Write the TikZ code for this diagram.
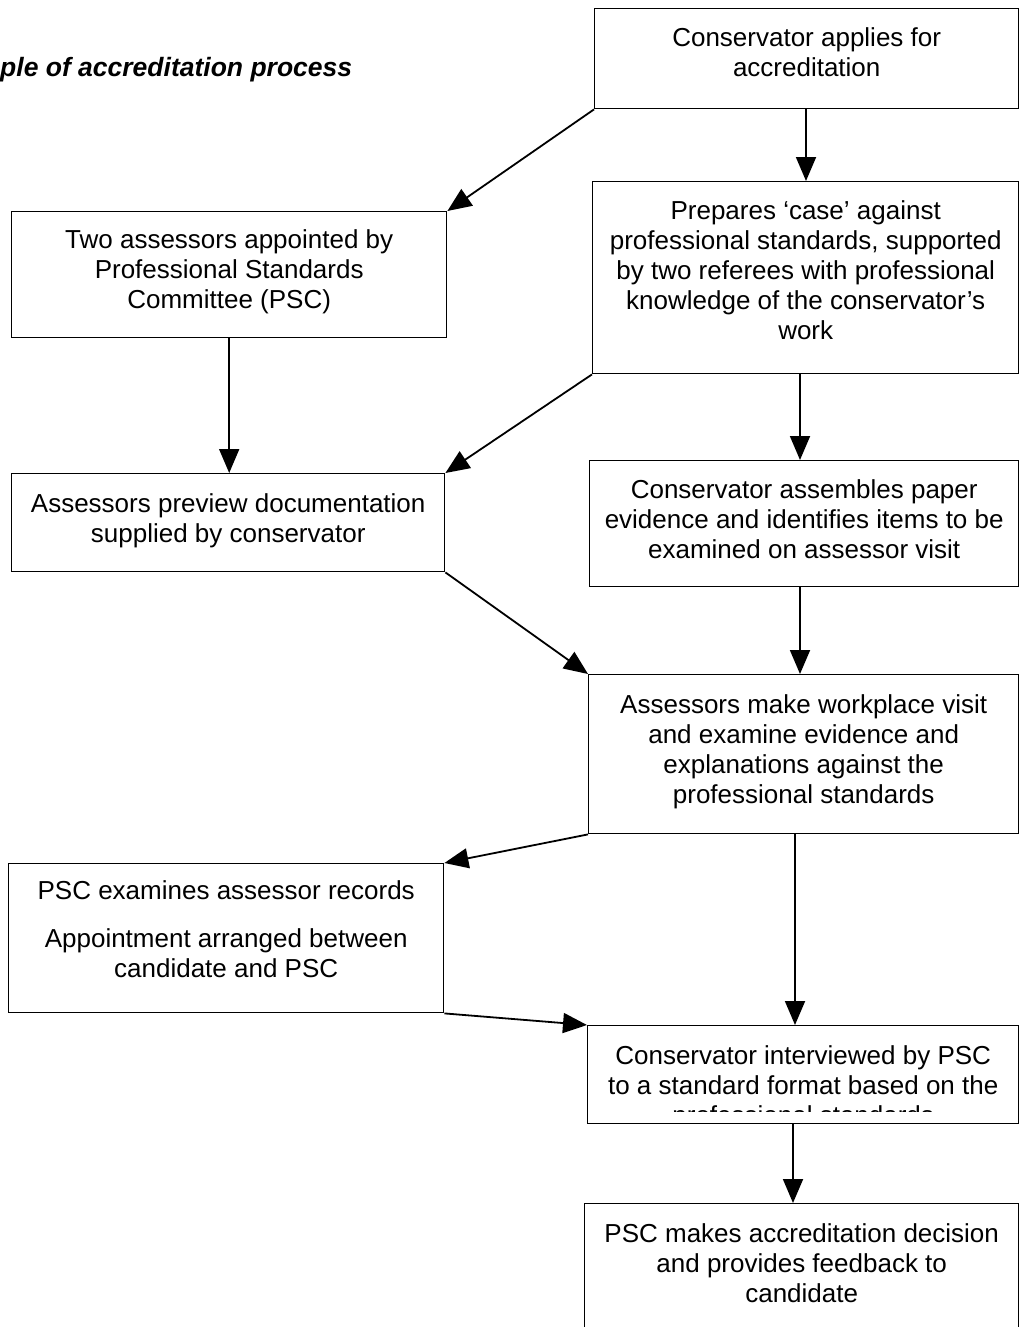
\documentclass[tikz,border=0pt]{standalone}
\usepackage{fontspec}
\setmainfont{Liberation Sans}
\usetikzlibrary{arrows.meta}

\begin{document}
\begin{tikzpicture}[x=1pt,y=-1pt,
  box/.style={draw, line width=1.4pt, inner sep=0pt, anchor=north west},
  txt/.style={anchor=north, inner sep=0pt, align=center,
              font=\fontsize{26}{30}\selectfont},
  arr/.style={line width=1.8pt, -{Triangle[length=24pt,width=20pt]}}]

  % page frame
  \useasboundingbox (0,0) rectangle (1020,1327);
  \clip (0,0) rectangle (1020,1327);

  % heading
  \node[anchor=base west, inner sep=0pt,
        font=\bfseries\itshape\fontsize{26.5}{30}\selectfont] (title) at (0,77)
        {ple of accreditation process};

  % boxes
  \node[box, minimum width=424pt, minimum height=100pt] (A) at (594,8) {};
  \node[box, minimum width=426pt, minimum height=192pt] (B) at (592,181) {};
  \node[box, minimum width=435pt, minimum height=126pt] (C) at (11,211) {};
  \node[box, minimum width=433pt, minimum height=98pt]  (D) at (11,473) {};
  \node[box, minimum width=429pt, minimum height=126pt] (E) at (589,460) {};
  \node[box, minimum width=430pt, minimum height=159pt] (F) at (588,674) {};
  \node[box, minimum width=435pt, minimum height=149pt] (G) at (8,863) {};
  \node[box, minimum width=431pt, minimum height=98pt]  (H) at (587,1025) {};
  \node[box, minimum width=434pt, minimum height=140pt] (I) at (584,1203) {};

  % box texts
  \node[txt] (tA) at ([yshift=-19pt]A.north)
    {Conservator applies for\\accreditation};
  \node[txt] (tB) at ([yshift=-19pt]B.north)
    {Prepares `case' against\\professional standards, supported\\by two referees with professional\\knowledge of the conservator's\\work};
  \node[txt] (tC) at ([yshift=-18pt]C.north)
    {Two assessors appointed by\\Professional Standards\\Committee (PSC)};
  \node[txt] (tD) at ([yshift=-20pt]D.north)
    {Assessors preview documentation\\supplied by conservator};
  \node[txt] (tE) at ([yshift=-19pt]E.north)
    {Conservator assembles paper\\evidence and identifies items to be\\examined on assessor visit};
  \node[txt] (tF) at ([yshift=-20pt]F.north)
    {Assessors make workplace visit\\and examine evidence and\\explanations against the\\professional standards};
  \node[txt] (tG) at ([yshift=-17pt]G.north)
    {PSC examines assessor records\\[18pt]Appointment arranged between\\candidate and PSC};
  \begin{scope}
    \clip (H.north west) rectangle ([yshift=13pt]H.south east);
    \node[txt] (tH) at ([yshift=-20pt]H.north)
      {Conservator interviewed by PSC\\to a standard format based on the\\professional standards};
  \end{scope}
  \node[txt] (tI) at ([yshift=-20pt]I.north)
    {PSC makes accreditation decision\\and provides feedback to\\candidate};

  % columns of the vertical connectors
  \coordinate (xab) at (806,0);
  \coordinate (xbe) at (800,0);
  \coordinate (xfh) at (795,0);
  \coordinate (xhi) at (793,0);

  % connectors
  \draw[arr] (A.south -| xab) -- (B.north -| xab);
  \draw[arr] (A.south west) -- (C.north east);
  \draw[arr] (C.south) -- (C.south |- D.north);
  \draw[arr] (B.south west) -- (D.north east);
  \draw[arr] (B.south -| xbe) -- (E.north -| xbe);
  \draw[arr] (E.south -| xbe) -- (F.north -| xbe);
  \draw[arr] (D.south east) -- (F.north west);
  \draw[arr] (F.south west) -- (G.north east);
  \draw[arr] (F.south -| xfh) -- (H.north -| xfh);
  \draw[arr] (G.south east) -- (H.north west);
  \draw[arr] (H.south -| xhi) -- (I.north -| xhi);
\end{tikzpicture}
\end{document}
